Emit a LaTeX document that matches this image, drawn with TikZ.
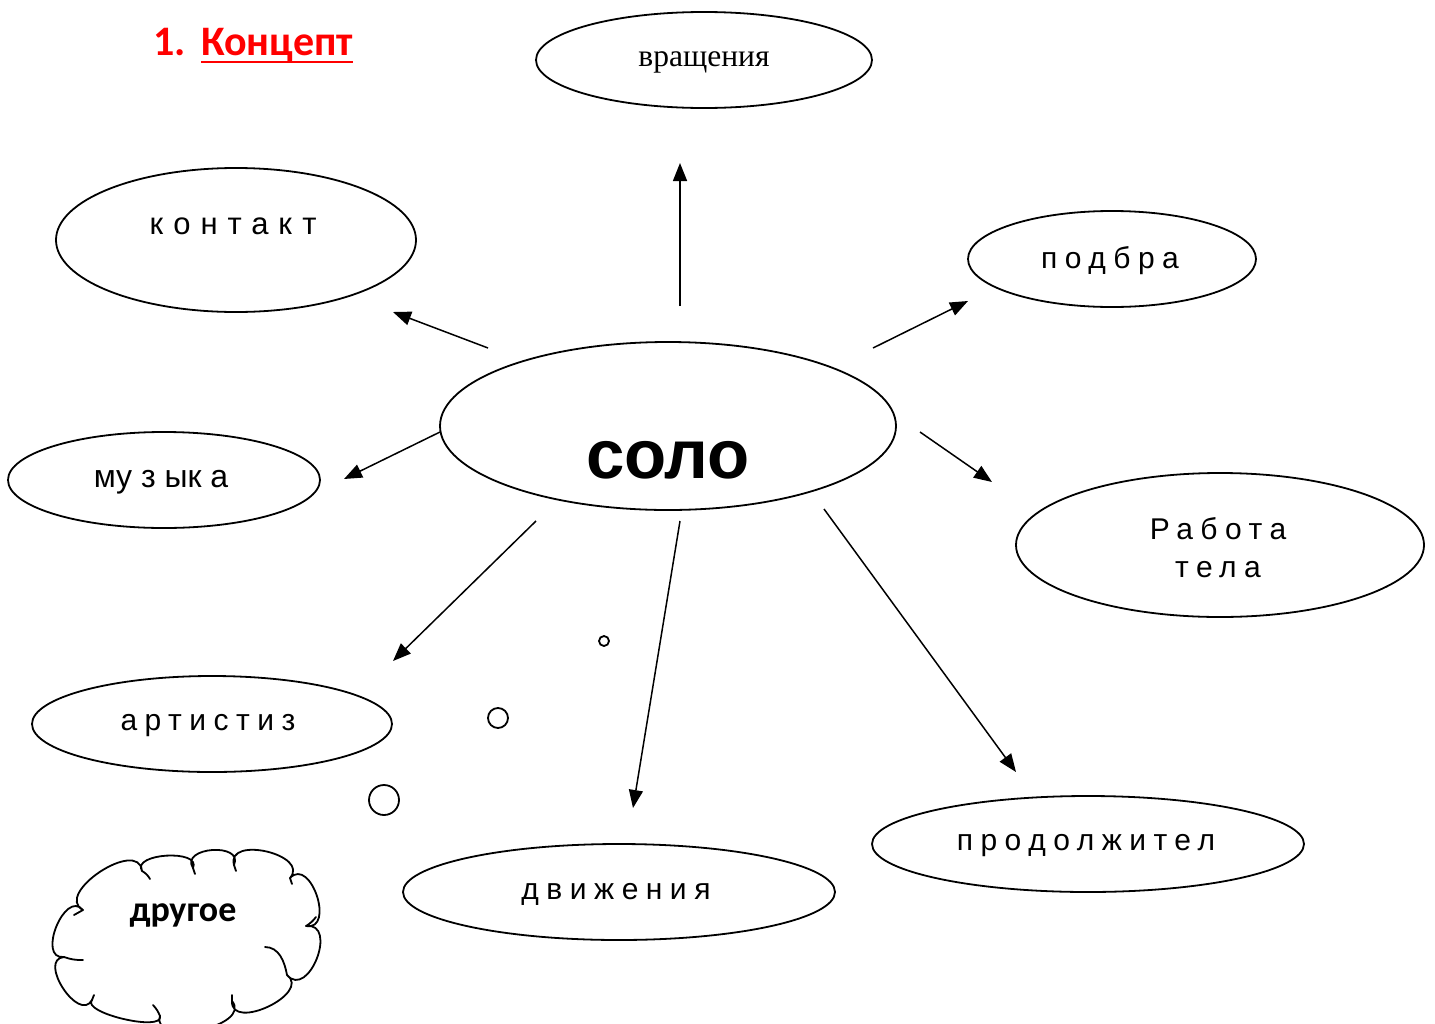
\documentclass[tikz,border=0pt]{standalone}
\usepackage{fontspec}
\setmainfont{Liberation Sans}
\newfontfamily\spacedfont[LetterSpace=25]{Liberation Sans}
\newfontfamily\widefont[LetterSpace=32]{Liberation Sans}
\newfontfamily\seriffont{Liberation Serif}
\newfontfamily\calfont{Carlito}
\usetikzlibrary{shapes.geometric,arrows.meta,calc}
\tikzset{
  oval/.style={draw,ellipse,line width=1.8pt,inner sep=0pt},
  lbl/.style={font=\spacedfont\fontsize{30}{36}\selectfont,inner sep=0pt,align=center},
  arr/.style={line width=1.5pt,-{Triangle[length=18pt,width=14pt]}},
  bub/.style={draw,circle,line width=1.8pt,inner sep=0pt},
  cloudline/.style={line width=1.8pt,line join=round,line cap=round}
}
\begin{document}
\begin{tikzpicture}[x=1pt,y=-1pt]
\useasboundingbox (0,0) rectangle (1435,1023);
% title
\node[anchor=base west,inner sep=0pt,text=red,font=\calfont\bfseries\fontsize{42}{48}\selectfont] (n1) at (153,55) {1.};
\node[anchor=base west,inner sep=0pt,text=red,font=\calfont\bfseries\fontsize{42}{48}\selectfont] (title) at (201,55) {Концепт};
\draw[red,line width=2.5pt] ($(title.base west)+(0,7)$) coordinate (u1) -- ($(title.base east)+(0,7)$) coordinate (u2);
% ellipses
\node[oval,minimum width=336pt,minimum height=96pt] (vr) at (704,60) {};
\node[oval,minimum width=360pt,minimum height=144pt] (ko) at (236,240) {};
\node[oval,minimum width=288pt,minimum height=96pt] (po) at (1112,259) {};
\node[oval,minimum width=456pt,minimum height=168pt] (so) at (668,426) {};
\node[oval,minimum width=312pt,minimum height=96pt] (mu) at (164,480) {};
\node[oval,minimum width=408pt,minimum height=144pt] (ra) at (1220,545) {};
\node[oval,minimum width=360pt,minimum height=96pt] (ar) at (212,724) {};
\node[oval,minimum width=432pt,minimum height=96pt] (dv) at (619,892) {};
\node[oval,minimum width=432pt,minimum height=96pt] (pr) at (1088,844) {};
% texts
\node[inner sep=0pt,font=\seriffont\fontsize{31.5}{36}\selectfont] (tvr) at (704,62) {вращения};
\node[inner sep=0pt,font=\widefont\fontsize{31}{36}\selectfont] (tko) at (233,226) {контакт};
\node[lbl] (tpo) at (1110,261) {подбра};
\node[inner sep=0pt,font=\bfseries\fontsize{69}{76}\selectfont] (tso) at (668,460) {соло};
\node[inner sep=0pt,font=\fontsize{32}{36}\selectfont] (tmu) at (161,482) {му з ык а};
\node[lbl] (tra) at (1218,548) {Работа\\[2pt]тела};
\node[lbl] (tar) at (208,726) {артистиз};
\node[lbl] (tdv) at (616,894) {движения};
\node[lbl] (tpr) at (1086,846) {продолжител};
% arrow endpoints
\coordinate (a1s) at (680,306); \coordinate (a1e) at (680,163);
\coordinate (a2s) at (488,348); \coordinate (a2e) at (393,312);
\coordinate (a3s) at (873,348); \coordinate (a3e) at (968,301);
\coordinate (a4s) at (440,432); \coordinate (a4e) at (344,479);
\coordinate (a5s) at (920,432); \coordinate (a5e) at (992,482);
\coordinate (a6s) at (536,521); \coordinate (a6e) at (393,661);
\coordinate (a7s) at (680,521); \coordinate (a7e) at (633,808);
\coordinate (a8s) at (824,509); \coordinate (a8e) at (1016,772);
\foreach \i in {1,...,8} \draw[arr] (a\i s) -- (a\i e);
% thought bubbles
\node[bub,minimum size=10pt] (b1) at (604,641) {};
\node[bub,minimum size=20pt] (b2) at (498,718) {};
\node[bub,minimum size=30pt] (b3) at (384,800) {};
% cloud outline
\coordinate (c1) at (83,910);
\coordinate (c2) at (142,871);
\coordinate (c3) at (193,868);
\coordinate (c4) at (234,865);
\coordinate (c5) at (290,878);
\coordinate (c6) at (306,926);
\coordinate (c7) at (287,975);
\coordinate (c8) at (232,1001);
\coordinate (c9) at (160,1016);
\coordinate (c10) at (92,1000);
\coordinate (c11) at (64,957);
\draw[cloudline]
  (c1) .. controls ($(c1)!34pt!118:(c2)$) and ($(c2)!34pt!-118:(c1)$) .. (c2)
       .. controls ($(c2)!21pt!118:(c3)$) and ($(c3)!21pt!-118:(c2)$) .. (c3)
       .. controls ($(c3)!25pt!118:(c4)$) and ($(c4)!25pt!-118:(c3)$) .. (c4)
       .. controls ($(c4)!31pt!118:(c5)$) and ($(c5)!31pt!-118:(c4)$) .. (c5)
       .. controls ($(c5)!30pt!118:(c6)$) and ($(c6)!30pt!-118:(c5)$) .. (c6)
       .. controls ($(c6)!33pt!118:(c7)$) and ($(c7)!33pt!-118:(c6)$) .. (c7)
       .. controls ($(c7)!31pt!118:(c8)$) and ($(c8)!31pt!-118:(c7)$) .. (c8)
       .. controls ($(c8)!33pt!118:(c9)$) and ($(c9)!33pt!-118:(c8)$) .. (c9)
       .. controls ($(c9)!17pt!118:(c10)$) and ($(c10)!17pt!-118:(c9)$) .. (c10)
       .. controls ($(c10)!27pt!118:(c11)$) and ($(c11)!27pt!-118:(c10)$) .. (c11)
       .. controls ($(c11)!28pt!118:(c1)$) and ($(c1)!28pt!-118:(c11)$) .. (c1) -- cycle;
% inner hooks of the cloud
\draw[cloudline] (c2) to[bend left=15] (150,879);
\draw[cloudline] (c3) -- (195,874);
\draw[cloudline] (c4) -- (236,871);
\draw[cloudline] (c5) to[bend left=10] (292,884);
\draw[cloudline] (c6) to[bend right=10] (316,917);
\draw[cloudline] (265,947) to[out=0,in=100] (c7);
\draw[cloudline] (c8) -- (232,995);
\draw[cloudline] (c9) to[bend right=10] (153,1005);
\draw[cloudline] (c10) -- (94,995);
\draw[cloudline] (c11) to[bend right=10] (83,960);
\draw[cloudline] (c1) -- (74,915);
\node[inner sep=0pt,font=\calfont\bfseries\fontsize{36}{40}\selectfont] (tcl) at (183,915) {другое};
\end{tikzpicture}
\end{document}
